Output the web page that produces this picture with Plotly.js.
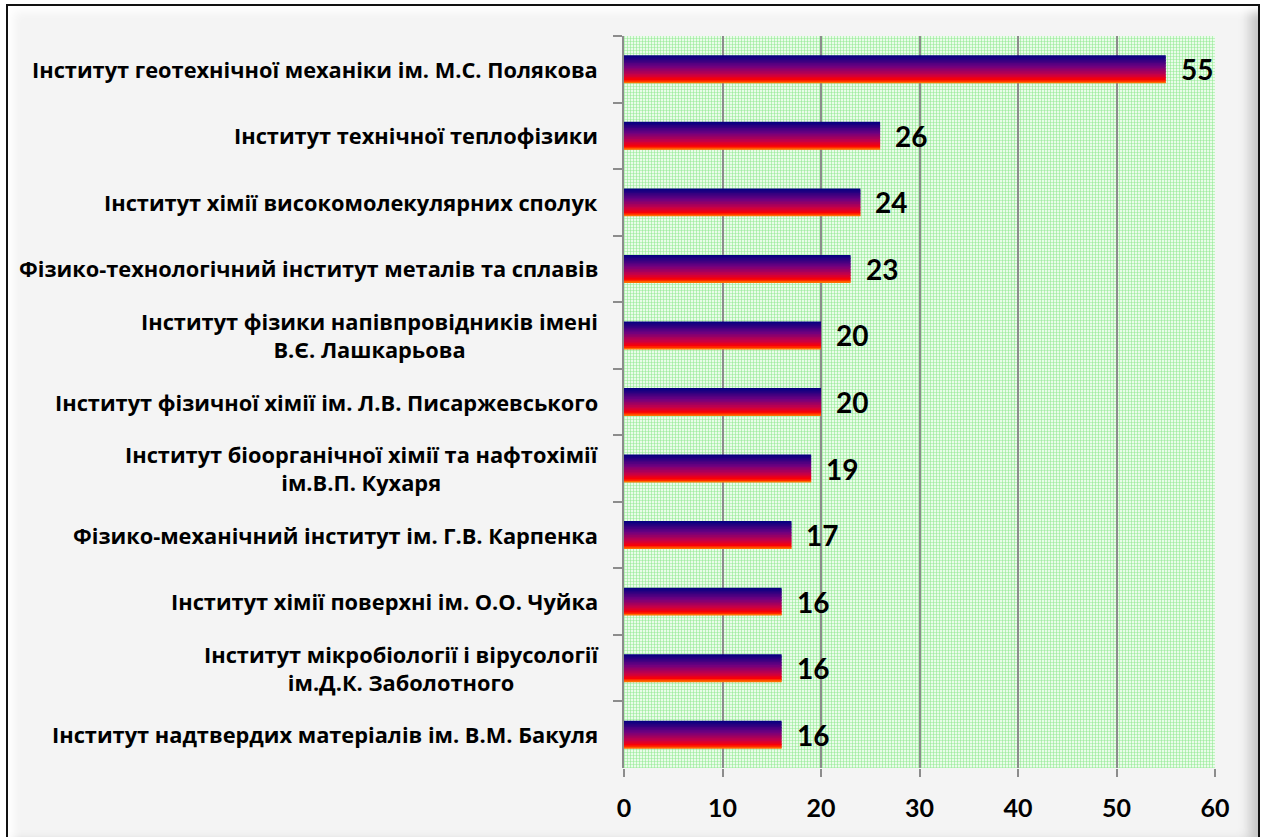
<!DOCTYPE html>
<html>
<head>
<meta charset="utf-8">
<script src="https://cdn.plot.ly/plotly-3.0.1.min.js"></script>
<style>
  html, body { margin: 0; padding: 0; background: #ffffff; overflow: hidden; }
  #wrap { position: relative; width: 1263px; height: 837px; }
  #frame {
    position: absolute; left: 6px; top: 4px; width: 1250px; height: 840px;
    border: 2px solid #111; background: #f4f4f4;
    box-shadow: inset 12px 12px 10px -6px #ffffff, inset -14px -10px 12px -6px #c4c4c4;
  }
  #grid {
    position: absolute; left: 624px; top: 36px; width: 591px; height: 732px;
    background-color: #e9fce9;
    background-image:
      repeating-linear-gradient(90deg, rgba(140,232,140,0.55) 0 1px, transparent 1px 3px),
      repeating-linear-gradient(0deg, rgba(140,232,140,0.45) 0 1px, transparent 1px 3px);
  }
  #chart { position: absolute; left: 0; top: 0; width: 1263px; height: 837px; }
</style>
</head>
<body>
<div id="wrap">
  <div id="frame"></div>
  <div id="grid"></div>
  <div id="chart"></div>
</div>
<script>
// ---- data ----
const institutes = [
    'Інститут геотехнічної механіки ім. М.С. Полякова',
    'Інститут технічної теплофізики',
    'Інститут хімії високомолекулярних сполук',
    'Фізико-технологічний інститут металів та сплавів',
    'Інститут фізики напівпровідників імені<br>В.Є. Лашкарьова',
    'Інститут фізичної хімії ім. Л.В. Писаржевського',
    'Інститут біоорганічної хімії та нафтохімії<br>ім.В.П. Кухаря',
    'Фізико-механічний інститут ім. Г.В. Карпенка',
    'Інститут хімії поверхні ім. О.О. Чуйка',
    'Інститут мікробіології і вірусології<br>ім.Д.К. Заболотного',
    'Інститут надтвердих матеріалів ім. В.М. Бакуля'
];
const counts = [55, 26, 24, 23, 20, 20, 19, 17, 16, 16, 16];
const xTicks = [0, 10, 20, 30, 40, 50, 60];

// ---- style ----
const FONT = 'Lato, "Open Sans", "DejaVu Sans", sans-serif';
const LABEL_FONT = '"Open Sans", Lato, "DejaVu Sans", sans-serif';
const GRAY = '#8c8c8c';
const BAR_WIDTH = 0.42;
const SLICES = 18;

// gradient stops: navy at the top of each bar, red / orange at the bottom
const stops = [
    [0.00, [0, 0, 128]],
    [0.40, [110, 0, 128]],
    [0.70, [200, 0, 70]],
    [0.88, [255, 0, 0]],
    [1.00, [255, 140, 0]]
];

function gradColor(t) {
    for (let i = 1; i < stops.length; i++) {
        if (t <= stops[i][0]) {
            const [t0, c0] = stops[i - 1];
            const [t1, c1] = stops[i];
            const f = (t - t0) / (t1 - t0);
            const c = c0.map((v, j) => Math.round(v + (c1[j] - v) * f));
            return `rgb(${c[0]},${c[1]},${c[2]})`;
        }
    }
    return 'rgb(255,140,0)';
}

// one overlaid bar trace per horizontal slice of the gradient
const sliceH = BAR_WIDTH / SLICES;
const traces = [];
for (let k = 0; k < SLICES; k++) {
    const last = k === SLICES - 1;
    traces.push({
        type: 'bar',
        orientation: 'h',
        y: institutes,
        x: counts,
        offset: -BAR_WIDTH / 2 + k * sliceH,
        width: last ? sliceH : sliceH * 1.6,
        marker: { color: gradColor((k + 0.5) / SLICES), line: { width: 0 } },
        hoverinfo: 'skip',
        showlegend: false
    });
}

// value labels to the right of the bars
const valueLabels = counts.map((v, i) => ({
    x: v, y: institutes[i], xref: 'x', yref: 'y',
    text: String(v), showarrow: false,
    xanchor: 'left', xshift: 13,
    font: { family: FONT, size: 28, color: '#000', weight: 'bold' }
}));

// category labels (right-aligned block, lines centred)
const catLabels = institutes.map(name => ({
    x: 0, y: name, xref: 'paper', yref: 'y',
    text: name, showarrow: false,
    xanchor: 'right', xshift: -24, align: 'center',
    font: { family: LABEL_FONT, size: 21.8, color: '#000', weight: 'bold' }
}));

const layout = {
    width: 1263,
    height: 837,
    paper_bgcolor: 'rgba(0,0,0,0)',
    plot_bgcolor: 'rgba(0,0,0,0)',
    margin: { l: 624, r: 48, t: 36, b: 69 },
    barmode: 'overlay',
    showlegend: false,
    font: { family: FONT, color: '#000' },
    xaxis: {
        range: [0, 60],
        tickvals: xTicks,
        showgrid: true, gridcolor: GRAY, gridwidth: 2,
        zeroline: false, showline: false,
        ticks: 'outside', ticklen: 8, tickwidth: 2, tickcolor: GRAY,
        ticklabelstandoff: 10,
        tickfont: { family: FONT, size: 25, color: '#000', weight: 'bold' },
        fixedrange: true
    },
    yaxis: {
        type: 'category',
        categoryorder: 'array', categoryarray: institutes,
        range: [10.5, -0.5],
        showticklabels: false,
        tickson: 'boundaries',
        ticks: 'outside', ticklen: 9, tickwidth: 2, tickcolor: GRAY,
        showgrid: false, zeroline: false,
        showline: true, linecolor: GRAY, linewidth: 2,
        fixedrange: true
    },
    annotations: catLabels.concat(valueLabels)
};

Plotly.newPlot('chart', traces, layout, { staticPlot: true });
</script>
</body>
</html>
